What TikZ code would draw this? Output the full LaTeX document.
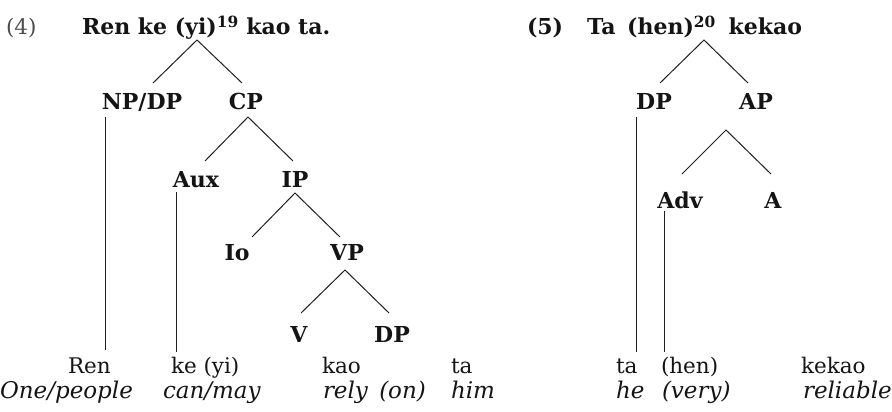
\documentclass[tikz,border=0pt]{standalone}
\usepackage{fontspec}
\setmainfont{DejaVu Serif}
\begin{document}
\begin{tikzpicture}[x=1pt,y=-1pt,
  every node/.style={inner sep=0pt,outer sep=0pt,text=black!92},
  cat/.style={font=\fontsize{22}{26}\selectfont\bfseries,anchor=base},
  head/.style={font=\fontsize{22}{26}\selectfont\bfseries,anchor=base west},
  word/.style={font=\fontsize{21.5}{26}\selectfont,anchor=base west},
  gloss/.style={font=\fontsize{23}{26}\selectfont\itshape,anchor=base west},
  branch/.style={draw=black!88,line width=1pt}]
\useasboundingbox (0,0) rectangle (892,412);

% ---- example (4) ----
\node[word,text=black!70] (n4) at (6,35) {(4)};
\node[head] (t4) at (82,35) {Ren ke (yi)\textsuperscript{19} kao ta.};
\node[cat] (npdp) at (142,110) {NP/DP};
\node[cat] (cp)   at (246,110) {CP};
\node[cat] (aux)  at (196,187) {Aux};
\node[cat] (ip)   at (295,187) {IP};
\node[cat] (io)   at (237,260) {Io};
\node[cat] (vp)   at (347,260) {VP};
\node[cat] (v)    at (299,342) {V};
\node[cat] (dp4)  at (392,342) {DP};

\node[word] (w-ren) at (68,373)  {Ren};
\node[word] (w-ke)  at (171,373) {ke (yi)};
\node[word] (w-kao) at (322,373) {kao};
\node[word] (w-ta)  at (451,373) {ta};
\node[gloss] (g-one)  at (0,398)   {One/people};
\node[gloss] (g-can)  at (163,398) {can/may};
\node[gloss] (g-rely) at (323,398) {rely\hspace{4pt} (on)};
\node[gloss] (g-him)  at (451,398) {him};

% attachment points of the branches
\coordinate (t4b)   at (197,40);
\coordinate (npdpt) at (153,83);
\coordinate (cpt)   at (242,83);
\coordinate (cpb)   at (248,117);
\coordinate (auxt)  at (205,161);
\coordinate (ipt)   at (293,161);
\coordinate (ipb)   at (295,193);
\coordinate (iot)   at (252,237);
\coordinate (vpt)   at (340,237);
\coordinate (vpb)   at (345,270);
\coordinate (vt)    at (301,313);
\coordinate (dp4t)  at (389,313);
\coordinate (npdpb) at (105,117);
\coordinate (renT)  at (105,350);
\coordinate (auxb)  at (176,192);
\coordinate (keT)   at (176,352);

\draw[branch] (npdpt) -- (t4b) -- (cpt);
\draw[branch] (auxt) -- (cpb) -- (ipt);
\draw[branch] (iot) -- (ipb) -- (vpt);
\draw[branch] (vt) -- (vpb) -- (dp4t);
\draw[branch] (npdpb) -- (renT);
\draw[branch] (auxb) -- (keT);

% ---- example (5) ----
\node[head] (n5) at (527,35) {(5)};
\node[head] (t5) at (587,35) {Ta\hspace{4pt} (hen)\textsuperscript{20}\hspace{5pt} kekao};
\node[cat] (dp5) at (654,110) {DP};
\node[cat] (ap)  at (756,110) {AP};
\node[cat] (adv) at (680,208) {Adv};
\node[cat] (a)   at (773,208) {A};

\node[word] (w-ta5)  at (616,373) {ta};
\node[word] (w-hen)  at (661,373) {(hen)};
\node[word] (w-kek)  at (801,373) {kekao};
\node[gloss] (g-he)   at (616,398) {he};
\node[gloss] (g-very) at (662,398) {(very)};
\node[gloss] (g-rel)  at (803,398) {reliable};

\coordinate (t5b)  at (704,40);
\coordinate (dp5t) at (660,83);
\coordinate (apt)  at (748,83);
\coordinate (apb)  at (726,130);
\coordinate (advt) at (682,174);
\coordinate (at)   at (771,174);
\coordinate (dp5b) at (636,117);
\coordinate (taT)  at (636,352);
\coordinate (advb) at (664,211);
\coordinate (henT) at (664,352);

\draw[branch] (dp5t) -- (t5b) -- (apt);
\draw[branch] (advt) -- (apb) -- (at);
\draw[branch] (dp5b) -- (taT);
\draw[branch] (advb) -- (henT);
\end{tikzpicture}
\end{document}
